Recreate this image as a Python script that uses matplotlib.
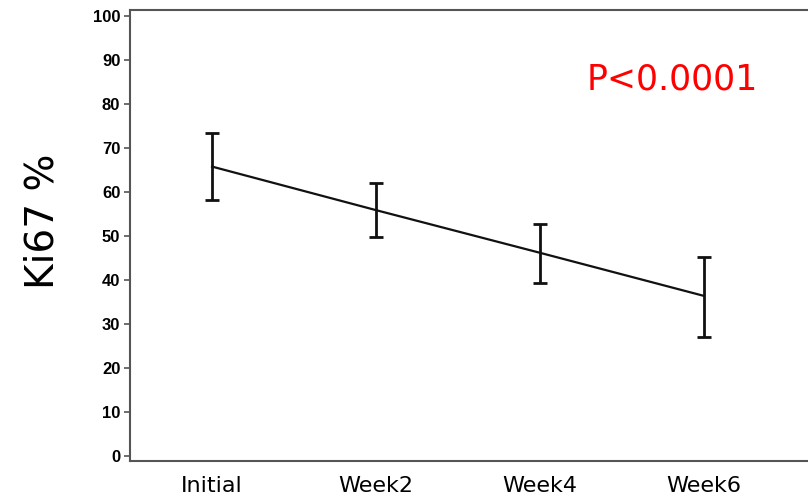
import matplotlib
matplotlib.use("Agg")
import matplotlib.pyplot as plt

# Ki67 % over treatment time points
timepoints = ["Initial", "Week2", "Week4", "Week6"]
ki67_mean = [65.8, 55.9, 46.2, 36.4]
ki67_upper = [73.5, 62.0, 52.8, 45.3]
ki67_lower = [58.3, 49.8, 39.4, 27.0]
y_ticks = [0, 10, 20, 30, 40, 50, 60, 70, 80, 90, 100]

x = list(range(len(timepoints)))
err_low = [m - lo for m, lo in zip(ki67_mean, ki67_lower)]
err_high = [hi - m for m, hi in zip(ki67_mean, ki67_upper)]

fig = plt.figure(figsize=(8.08, 4.99), dpi=100)
ax = fig.add_axes([0.161, 0.077, 0.839, 0.902])

ax.errorbar(x, ki67_mean, yerr=[err_low, err_high], color="#111111",
            linewidth=1.6, elinewidth=2.0, capsize=5, capthick=2.0)

ax.set_xlim(-0.5, 3.635)
ax.set_ylim(-1.05, 101.3)
ax.set_yticks(y_ticks)
ax.set_xticks(x)
ax.set_xticklabels(timepoints, fontsize=16, family="DejaVu Sans")
ax.tick_params(axis="x", length=0, pad=11)
ax.tick_params(axis="y", length=4, width=1.2, color="#555555", pad=3)
for lab in ax.get_yticklabels():
    lab.set_fontfamily("Liberation Sans")
    lab.set_fontweight("bold")
    lab.set_fontsize(12)

for side in ["left", "bottom", "top"]:
    ax.spines[side].set_color("#555555")
    ax.spines[side].set_linewidth(1.5)
ax.spines["right"].set_visible(False)

fig.text(0.052, 0.557, "Ki67 %", rotation=90, fontsize=28,
         ha="center", va="center", family="DejaVu Sans")
ax.text(0.80, 0.846, "P<0.0001", color="red", fontsize=25,
        ha="center", va="center", transform=ax.transAxes,
        family="DejaVu Sans")

fig.savefig("out.png", dpi=100)
